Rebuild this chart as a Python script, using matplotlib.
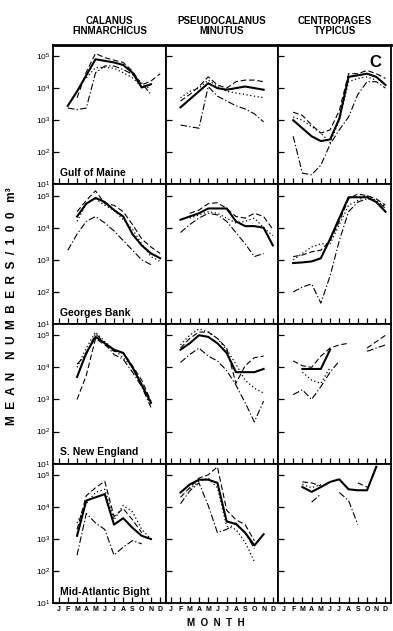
import numpy as np
import matplotlib.pyplot as plt
from matplotlib.ticker import NullLocator

n = np.nan

months = np.arange(1, 13)
month_labels = ["J", "F", "M", "A", "M", "J", "J", "A", "S", "O", "N", "D"]
species = ["CALANUS\nFINMARCHICUS", "PSEUDOCALANUS\nMINUTUS", "CENTROPAGES\nTYPICUS"]
regions = ["Gulf of Maine", "Georges Bank", "S. New England", "Mid-Atlantic Bight"]

# log10 of mean numbers per 100 m3, one row per series (J..D)
gom_cal = [
    [n, 3.45, 3.9, 4.4, 4.9, 4.85, 4.8, 4.72, 4.48, 4.02, 4.12, n],
    [n, n, 3.7, 4.5, 5.08, 4.95, 4.87, 4.8, 4.53, 4.1, 4.22, 4.45],
    [n, 3.38, 3.33, 3.38, 4.48, 4.69, 4.69, 4.58, 4.43, 4.16, 3.8, n],
    [n, n, n, 4.32, 4.64, 4.65, 4.62, 4.48, 4.32, 4.06, 4.0, n],
]
gom_pse = [
    [n, 3.4, 3.65, 3.9, 4.15, 4.0, 3.95, 4.0, 4.05, 4.0, 3.95, n],
    [n, 3.6, 3.8, 4.05, 4.35, 4.1, 4.0, 4.2, 4.25, 4.25, 4.2, n],
    [n, 2.85, 2.8, 2.75, 4.05, 3.75, 3.6, 3.45, 3.35, 3.2, 2.95, n],
    [n, 3.7, 3.9, 4.0, 4.25, 4.05, 3.9, 3.85, 3.8, 3.75, 3.7, n],
]
gom_cen = [
    [n, 3.0, 2.75, 2.5, 2.35, 2.4, 3.05, 4.35, 4.4, 4.45, 4.35, 4.1],
    [n, 3.25, 3.15, 2.85, 2.6, 2.7, 3.3, 4.45, 4.45, 4.55, 4.45, 4.3],
    [n, 2.5, 1.35, 1.3, 1.6, 2.25, 2.7, 3.1, 3.8, 4.2, 4.2, 4.0],
    [n, 3.1, 3.0, 2.8, 2.6, 2.3, 3.0, 4.2, 4.3, 4.35, 4.25, n],
]

gb_cal = [
    [n, n, 4.35, 4.75, 4.93, 4.8, 4.55, 4.35, 3.8, 3.45, 3.2, 3.05],
    [n, n, 4.5, 4.85, 5.15, 4.75, 4.7, 4.5, 4.1, 3.65, 3.4, 3.2],
    [n, 3.3, 3.8, 4.2, 4.35, 4.15, 3.9, 3.6, 3.3, 3.0, 2.85, n],
    [n, n, 4.2, 4.75, 4.9, 4.7, 4.55, 4.25, 3.95, 3.5, 3.1, 2.95],
]
gb_pse = [
    [n, 4.25, 4.35, 4.45, 4.6, 4.6, 4.6, 4.2, 4.05, 4.05, 4.0, 3.45],
    [n, n, 4.45, 4.55, 4.75, 4.78, 4.6, 4.35, 4.3, 4.45, 4.35, 3.95],
    [n, 3.85, 4.1, 4.3, 4.45, 4.4, 4.2, 3.85, 3.5, 3.1, 3.2, n],
    [n, n, 4.3, 4.4, 4.5, 4.45, 4.3, 4.15, 4.2, 4.3, 4.0, 3.75],
]
gb_cen = [
    [n, 2.9, 2.92, 2.95, 3.05, 3.65, 4.3, 4.95, 4.95, 4.95, 4.8, 4.5],
    [n, 3.1, 3.15, 3.25, 3.3, 3.6, 4.2, 4.9, 5.05, 5.0, 4.9, 4.7],
    [n, 2.0, 2.15, 2.25, 1.65, 2.5, 3.6, 4.5, 4.8, 4.9, 4.85, 4.6],
    [n, 3.0, 3.2, 3.4, 3.5, 3.5, 4.1, 4.7, 4.85, 5.0, 4.85, 4.65],
]

sne_cal = [
    [n, n, 3.7, 4.45, 4.95, 4.75, 4.55, 4.45, 4.0, 3.45, 2.9, n],
    [n, n, 3.0, 3.75, 4.9, 4.7, 4.5, 4.45, 4.05, 3.6, 2.95, n],
    [n, n, 4.1, 4.4, 5.05, 4.75, 4.4, 4.25, 3.85, 3.4, 2.75, n],
    [n, n, 4.0, 4.6, 5.1, 4.8, 4.55, 4.3, 4.0, 3.5, 2.85, n],
]
sne_pse = [
    [n, 4.55, 4.75, 5.0, 4.95, 4.75, 4.45, 3.85, 3.85, 3.85, 3.95, n],
    [n, 4.6, 4.9, 5.1, 5.1, 4.9, 4.6, 3.5, 4.05, 4.3, 4.35, n],
    [n, 4.15, 4.4, 4.6, 4.35, 4.2, 3.9, 3.45, 2.9, 2.3, 2.95, n],
    [n, 4.7, 5.0, 5.2, 5.1, 4.9, 4.55, 4.1, 3.6, 3.35, 3.2, n],
]
sne_cen = [
    [n, n, 3.95, 3.95, 3.95, 4.55, n, n, n, n, n, n],
    [n, 4.2, 4.05, 4.0, 4.35, 4.6, 4.7, 4.75, n, 4.6, 4.8, 5.0],
    [n, 3.15, 3.3, 3.0, 3.4, 3.85, 4.2, n, n, 4.5, 4.6, 4.7],
    [n, n, 3.85, 3.6, 3.5, 4.0, n, n, n, n, n, n],
]

mab_cal = [
    [n, n, 3.1, 4.2, 4.3, 4.4, 3.45, 3.65, 3.35, 3.1, 3.0, n],
    [n, n, 3.3, 4.35, 4.6, 4.8, 3.7, 3.95, 3.6, 3.2, n, n],
    [n, n, 2.5, 3.8, 3.5, 3.3, 2.5, 2.75, 2.95, 2.85, n, n],
    [n, n, 3.5, 4.1, 4.45, 4.55, 3.6, 4.05, 3.85, 3.3, 3.0, n],
]
mab_pse = [
    [n, 4.45, 4.7, 4.85, 4.85, 4.75, 3.55, 3.47, 3.2, 2.8, 3.15, n],
    [n, 4.3, 4.6, 4.9, 5.0, 5.25, 3.9, 3.6, 3.45, 2.95, n, n],
    [n, 4.1, 4.5, 4.75, 4.05, 3.2, 3.3, 3.5, 3.2, 2.7, n, n],
    [n, n, 4.55, 4.8, 4.9, 4.6, 3.4, 3.3, 2.9, 2.3, n, n],
]
mab_cen = [
    [n, n, 4.62, 4.47, 4.62, 4.78, 4.86, 4.55, 4.52, 4.52, 5.25, n],
    [n, n, 4.78, 4.75, 4.65, n, n, n, 4.75, 4.62, n, n],
    [n, n, n, 4.15, 4.4, n, 4.45, 4.2, 3.45, n, n, n],
    [n, n, 4.7, 4.6, 4.7, n, n, n, n, n, n, n],
]

panels = [
    [gom_cal, gom_pse, gom_cen],
    [gb_cal, gb_pse, gb_cen],
    [sne_cal, sne_pse, sne_cen],
    [mab_cal, mab_pse, mab_cen],
]

styles = [
    dict(ls="-", lw=1.5),
    dict(ls=(0, (5, 2.5)), lw=0.8),
    dict(ls=(0, (6, 2, 1.2, 2)), lw=0.8),
    dict(ls=(0, (1, 2)), lw=0.9),
]

plt.rcParams["font.family"] = ["Liberation Sans", "DejaVu Sans"]

fig, axes = plt.subplots(4, 3, figsize=(3.93, 6.31), dpi=100, sharex=True, sharey=True)
plt.subplots_adjust(left=0.135, right=0.995, top=0.929, bottom=0.044, wspace=0, hspace=0)

for r in range(4):
    for c in range(3):
        ax = axes[r, c]
        for series, st in zip(panels[r][c], styles):
            ax.plot(months, 10 ** np.array(series), color="black", **st)
        ax.set_yscale("log")
        ax.set_ylim(10, 10 ** 5.35)
        ax.set_xlim(0.4, 12.6)
        ax.set_yticks([10, 1e2, 1e3, 1e4, 1e5])
        ax.yaxis.set_minor_locator(NullLocator())
        ax.set_xticks(months)
        ax.tick_params(direction="in", length=4, width=0.9, top=False, right=False,
                       labelsize=6, pad=2)
        for sp in ax.spines.values():
            sp.set_linewidth(1.3)
        if c == 0:
            ax.set_yticklabels(["10", "10$^2$", "10$^3$", "10$^4$", "10$^5$"])
            ax.text(0.06, 0.06, regions[r], transform=ax.transAxes,
                    fontsize=7.5, fontweight="bold")
        if r == 3:
            ax.set_xticklabels(month_labels, fontsize=5, fontweight="bold")
        if r == 0:
            ax.spines["top"].set_linewidth(2)
            ax.text(0.5, 1.06, species[c], transform=ax.transAxes, ha="center",
                    va="bottom", fontsize=7, fontweight="bold", linespacing=1.1)

axes[0, 2].text(0.86, 0.87, "C", transform=axes[0, 2].transAxes, ha="center",
                va="center", fontsize=12, fontweight="bold")

fig.text(0.03, 0.515, "M  E  A  N    N  U  M  B  E  R  S  /  1  0  0   m³",
         rotation=90, ha="center", va="center", fontsize=8.5, fontweight="bold")
fig.text(0.55, 0.012, "M  O  N  T  H", ha="center", va="center",
         fontsize=7, fontweight="bold")

fig.savefig("out.png", dpi=100)
